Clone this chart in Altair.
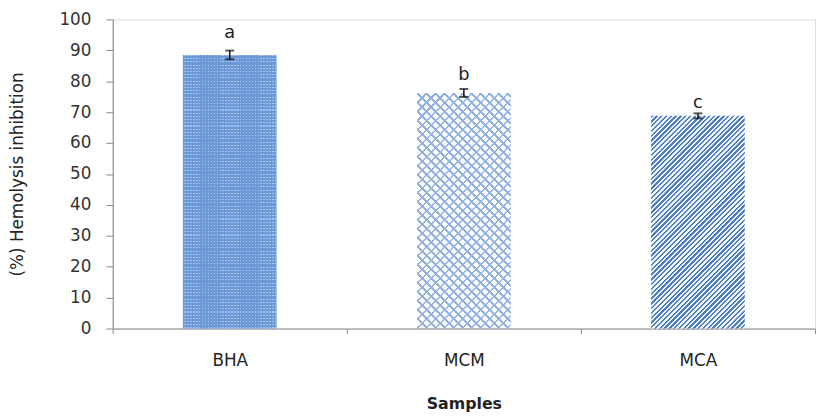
import altair as alt
import pandas as pd

samples = ["BHA", "MCM", "MCA"]
values = [88.5, 76.2, 68.8]
errors = [1.4, 1.3, 0.8]
letters = ["a", "b", "c"]
letter_y = [95.5, 82.0, 72.8]

W = 711
H = 313
FONT = "DejaVu Sans"

df = pd.DataFrame({
    "sample": samples,
    "value": values,
    "lo": [v - e for v, e in zip(values, errors)],
    "hi": [v + e for v, e in zip(values, errors)],
    "letter": letters,
    "ly": letter_y,
})

xaxis = alt.Axis(title="Samples", labelAngle=0, tickBand="extent",
                 labelFont=FONT, labelFontSize=17, labelColor="#222",
                 labelPadding=19, tickSize=5, tickColor="#888",
                 domainColor="#888", titleFont=FONT, titleFontSize=16,
                 titleFontWeight="bold", titleColor="#222", titlePadding=28)
yaxis = alt.Axis(title="(%) Hemolysis inhibition", values=list(range(0, 101, 10)),
                 grid=False, labelOverlap=False, labelFont=FONT, labelFontSize=17,
                 labelColor="#333", labelPadding=15, tickSize=7, tickColor="#888",
                 domainColor="#888", titleFont=FONT, titleFontSize=17,
                 titleFontWeight="normal", titleColor="#222", titlePadding=33)
xscale = alt.Scale(paddingInner=0, paddingOuter=0)
yscale = alt.Scale(domain=[0, 100], nice=False)


def X():
    return alt.X("sample:N", sort=samples, scale=xscale, axis=xaxis)


def Y(field):
    return alt.Y(field, type="quantitative", scale=yscale, axis=yaxis)


bw = 0.4 * W / 3
Q = 256.0


def stripe_stops(c1, c2, n, on):
    # stripes aligned to 1/256 steps: period n steps, first `on` steps are c1
    stops = []
    i = 0
    while i * n < Q:
        a = i * n / Q
        b = (i * n + on) / Q
        c = (i + 1) * n / Q
        stops += [alt.GradientStop(offset=min(a, 1), color=c1),
                  alt.GradientStop(offset=min(b, 1), color=c1),
                  alt.GradientStop(offset=min(b, 1), color=c2),
                  alt.GradientStop(offset=min(c, 1), color=c2)]
        i += 1
    return stops


def stripes(c1, c2, n, on, w, h, direction):
    span = w + h
    stops = stripe_stops(c1, c2, n, on)
    k = span / (w * w + h * h)
    if direction == "/":
        return alt.LinearGradient(gradient="linear", stops=stops,
                                  x1=0, y1=0, x2=k * w, y2=k * h)
    return alt.LinearGradient(gradient="linear", stops=stops,
                              x1=0, y1=1, x2=k * w, y2=1 - k * h)


def hstripes(c1, c2, n, on):
    return alt.LinearGradient(gradient="linear", stops=stripe_stops(c1, c2, n, on),
                              x1=0, y1=0, x2=0, y2=1)


def vstripes(c1, c2, n, on):
    return alt.LinearGradient(gradient="linear", stops=stripe_stops(c1, c2, n, on),
                              x1=0, y1=0, x2=1, y2=0)


hpx = [v / 100 * H for v in values]

base = alt.Chart(df)
bar_w = alt.RelativeBandSize(0.4)
CLEAR = "rgba(255,255,255,0)"

bha_base = base.transform_filter(alt.datum.sample == "BHA")
bha = bha_base.mark_bar(width=bar_w, color="#6c98d6").encode(x=X(), y=Y("value"))
bha_h = bha_base.mark_bar(width=bar_w, color=hstripes("#a8c5ee", CLEAR, 3, 1)).encode(
    x=X(), y=Y("value"))
bha_v = bha_base.mark_bar(width=bar_w, color=vstripes("#6c98d6", CLEAR, 8, 4)).encode(
    x=X(), y=Y("value"))

mcm_base = base.transform_filter(alt.datum.sample == "MCM")
mcm1 = mcm_base.mark_bar(
    width=bar_w, color=stripes("#92b2e0", CLEAR, 7, 2, bw, hpx[1], "/")
).encode(x=X(), y=Y("value"))
mcm2 = mcm_base.mark_bar(
    width=bar_w, color=stripes("#92b2e0", CLEAR, 7, 2, bw, hpx[1], "\\")
).encode(x=X(), y=Y("value"))

mca = base.transform_filter(alt.datum.sample == "MCA").mark_bar(
    width=bar_w, color=stripes("#4e7fc3", "#f4f7fc", 4, 2, bw, hpx[2], "/")
).encode(x=X(), y=Y("value"))

err = base.mark_rule(color="#111", strokeWidth=1.5).encode(
    x=X(), y=Y("lo"), y2="hi:Q")
cap_lo = base.mark_tick(color="#111", size=9, thickness=2).encode(x=X(), y=Y("lo"))
cap_hi = base.mark_tick(color="#111", size=9, thickness=2).encode(x=X(), y=Y("hi"))

txt = base.mark_text(font=FONT, fontSize=18, color="#222", baseline="middle").encode(
    x=X(), y=Y("ly"), text="letter:N")

chart = alt.layer(bha, bha_h, bha_v, mcm1, mcm2, mca, err, cap_lo, cap_hi, txt).properties(
    width=W, height=H,
    padding={"left": 0, "top": 0, "right": 0, "bottom": 0},
).configure_view(stroke=None).configure(background="white")

chart.save("out.html", embed_options={"renderer": "svg", "actions": False})
